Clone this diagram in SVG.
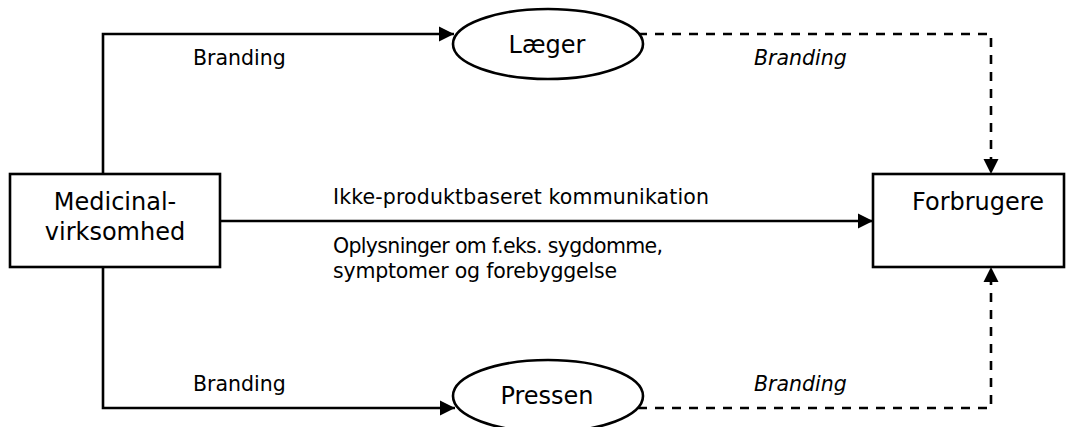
<svg xmlns="http://www.w3.org/2000/svg" width="1071" height="427" viewBox="0 0 1071 427">
  <style>
    .box { fill: #fff; stroke: #000; stroke-width: 2.6; }
    .edge { fill: none; stroke: #000; stroke-width: 2.6; }
    .dash { stroke-dasharray: 9 8; }
    .big { font-family: "DejaVu Sans", Verdana, sans-serif; font-size: 24px; fill: #000; }
    .lbl { font-family: "DejaVu Sans", Verdana, sans-serif; font-size: 20.5px; fill: #000; }
    .it { font-style: italic; }
  </style>
  <defs>
    <marker id="arrow" markerUnits="userSpaceOnUse" markerWidth="16" markerHeight="16" viewBox="0 0 16 16" refX="15" refY="8" orient="auto">
      <path d="M0,0.5 L15,8 L0,15.5 Z" fill="#000"/>
    </marker>
  </defs>

  <rect width="1071" height="427" fill="#fff"/>

  <!-- connectors -->
  <g id="connectors">
    <path class="edge" d="M103,174 V34 H454" marker-end="url(#arrow)"/>
    <path class="edge" d="M103,267 V408 H455" marker-end="url(#arrow)"/>
    <path class="edge" d="M220,221 H873" marker-end="url(#arrow)"/>
    <path class="edge dash" d="M638,34 H991 V174" marker-end="url(#arrow)"/>
    <path class="edge dash" d="M638,408 H991 V267" marker-end="url(#arrow)"/>
  </g>

  <!-- connector labels -->
  <g id="labels">
    <text class="lbl" x="193" y="65">Branding</text>
    <text class="lbl it" x="754" y="65">Branding</text>
    <text class="lbl" x="333" y="204" textLength="376" lengthAdjust="spacing">Ikke-produktbaseret kommunikation</text>
    <text class="lbl" x="333" y="253" textLength="330" lengthAdjust="spacing">Oplysninger om f.eks. sygdomme,</text>
    <text class="lbl" x="333" y="278" textLength="284" lengthAdjust="spacing">symptomer og forebyggelse</text>
    <text class="lbl" x="193" y="391">Branding</text>
    <text class="lbl it" x="754" y="391">Branding</text>
  </g>

  <g id="medicinal">
    <rect class="box" x="10" y="174" width="210" height="93"/>
    <text class="big" x="115" y="210" text-anchor="middle">Medicinal-</text>
    <text class="big" x="115" y="240" text-anchor="middle">virksomhed</text>
  </g>

  <g id="laeger">
    <ellipse class="box" cx="548" cy="44" rx="95" ry="35"/>
    <text class="big" x="547" y="53" text-anchor="middle">Læger</text>
  </g>

  <g id="pressen">
    <ellipse class="box" cx="548" cy="396" rx="95" ry="36"/>
    <text class="big" x="547" y="404" text-anchor="middle">Pressen</text>
  </g>

  <g id="forbrugere">
    <rect class="box" x="873" y="174" width="191" height="93"/>
    <text class="big" x="912" y="210">Forbrugere</text>
  </g>
</svg>
